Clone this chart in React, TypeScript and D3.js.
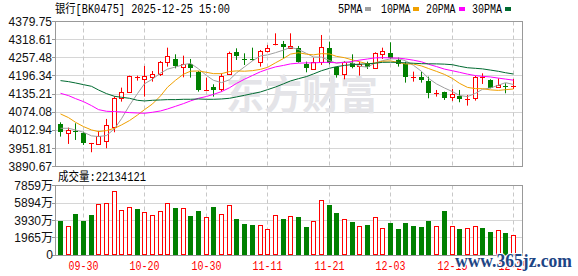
import React from 'react';
import * as d3 from 'd3';

const W = 578;
const H = 276;

const headerText = '银行[BK0475] 2025-12-25 15:00';
const volumeTitle = '成交量:22134121';
const maNames = ['5PMA', '10PMA', '20PMA', '30PMA'];
const maColors = ['#a0a0a0', '#f0a000', '#ff00ff', '#006a30'];

const xTickIdx = [3, 11, 19, 27, 35, 43, 51, 59];
const xTickLabels = ['09-30', '10-20', '10-30', '11-11', '11-21', '12-03', '12-15', '12-25'];
const priceTicks = [3890.67, 3951.81, 4012.94, 4074.08, 4135.21, 4196.34, 4257.48, 4318.61, 4379.75];
const volTicks = [0, 1965, 3930, 5894, 7859];
const volTickLabels = ['0', '1965万', '3930万', '5894万', '7859万'];

const opens = [4034.2, 4002.7, 4011.7, 4003.8, 3966.0, 3965.5, 3976.8, 4022.9, 4120.9, 4141.1, 4191.0, 4185.1, 4191.8, 4202.0, 4244.8, 4253.8, 4225.6, 4236.8, 4208.7, 4146.0, 4160.3, 4152.4, 4202.0, 4276.3, 4254.9, 4253.8, 4244.8, 4280.8, 4301.0, 4303.3, 4292.0, 4292.0, 4235.7, 4218.8, 4244.8, 4292.0, 4225.6, 4202.0, 4239.1, 4230.1, 4239.1, 4222.2, 4269.5, 4272.9, 4250.4, 4235.7, 4190.0, 4194.1, 4179.4, 4137.0, 4141.1, 4124.3, 4129.9, 4114.1, 4120.9, 4189.6, 4182.8, 4160.3, 4163.7, 4159.2];
const highs = [4039.8, 4021.8, 4036.4, 4008.3, 3970.0, 4010.5, 4051.1, 4127.6, 4156.9, 4197.4, 4197.4, 4230.1, 4213.2, 4247.0, 4292.0, 4269.5, 4265.0, 4253.8, 4213.2, 4190.7, 4168.2, 4205.3, 4278.5, 4289.8, 4272.9, 4292.0, 4284.2, 4301.0, 4340.5, 4314.6, 4340.5, 4297.7, 4244.8, 4258.3, 4334.8, 4312.3, 4227.9, 4247.0, 4269.5, 4244.8, 4244.8, 4276.3, 4292.0, 4310.1, 4258.3, 4244.8, 4211.0, 4211.0, 4194.1, 4149.0, 4143.4, 4152.4, 4149.0, 4132.1, 4196.3, 4205.3, 4185.1, 4188.4, 4171.5, 4186.2];
const lows = [3991.4, 3966.6, 3980.1, 3963.2, 3938.5, 3963.0, 3952.0, 4006.0, 4109.6, 4140.0, 4180.6, 4126.5, 4177.2, 4196.3, 4227.9, 4222.2, 4191.8, 4190.7, 4143.4, 4145.0, 4126.5, 4143.4, 4199.7, 4250.4, 4233.5, 4248.2, 4227.9, 4276.3, 4300.0, 4256.0, 4289.8, 4241.4, 4208.7, 4216.6, 4233.5, 4235.7, 4190.7, 4185.1, 4222.2, 4197.4, 4220.0, 4220.0, 4253.8, 4253.8, 4227.9, 4173.8, 4177.2, 4173.8, 4120.9, 4126.5, 4115.3, 4111.9, 4107.4, 4096.1, 4113.0, 4169.3, 4154.7, 4156.9, 4137.8, 4152.4];
const closes = [4006.0, 4013.9, 4009.4, 3971.1, 3969.0, 3994.8, 4030.8, 4123.1, 4141.1, 4196.3, 4193.0, 4196.3, 4202.0, 4242.5, 4262.8, 4230.1, 4235.7, 4224.5, 4149.0, 4150.0, 4149.0, 4196.3, 4272.9, 4265.0, 4252.6, 4249.3, 4280.8, 4289.8, 4303.0, 4295.4, 4296.5, 4244.8, 4222.2, 4242.5, 4293.2, 4239.1, 4199.7, 4244.8, 4225.6, 4235.7, 4225.6, 4272.9, 4280.8, 4256.0, 4235.7, 4194.1, 4192.0, 4181.7, 4137.8, 4139.5, 4123.1, 4134.4, 4117.5, 4118.5, 4194.1, 4191.8, 4156.9, 4164.8, 4161.0, 4162.5];
const volumes = [3856, 3289, 4687, 3856, 4536, 5783, 5897, 7258, 5103, 5443, 5216, 4876, 4536, 4990, 5897, 5330, 5330, 4460, 4990, 4300, 5443, 4649, 5670, 4082, 3515, 3402, 3402, 2948, 4536, 4082, 4423, 4309, 3175, 3856, 6237, 5708, 4801, 4082, 3742, 3289, 3402, 4309, 3062, 3667, 2948, 3667, 3289, 3175, 3856, 3289, 4990, 3289, 2948, 3062, 3289, 3062, 2608, 2835, 2495, 2213];

const ma5 = [4019.5, 4019.5, 4013.9, 4006.0, 3993.9, 3991.6, 3995.0, 4017.8, 4051.8, 4097.2, 4136.9, 4170.0, 4185.7, 4206.0, 4219.3, 4226.7, 4234.6, 4239.1, 4220.4, 4197.9, 4181.6, 4173.8, 4183.4, 4206.6, 4227.2, 4247.2, 4264.1, 4267.5, 4275.1, 4283.7, 4293.1, 4285.9, 4272.4, 4260.3, 4259.8, 4248.4, 4239.3, 4243.9, 4240.5, 4229.0, 4226.3, 4240.9, 4248.1, 4254.2, 4254.2, 4247.9, 4232.2, 4212.0, 4188.3, 4169.5, 4155.7, 4143.3, 4130.5, 4126.6, 4137.5, 4151.3, 4155.8, 4165.2, 4173.7, 4167.5];
const ma10 = [4068.0, 4055.6, 4039.8, 4025.2, 4013.9, 4008.3, 4011.7, 4019.5, 4030.8, 4045.6, 4064.3, 4082.5, 4101.8, 4128.9, 4158.3, 4181.8, 4202.3, 4212.4, 4213.2, 4208.6, 4204.2, 4204.2, 4211.3, 4213.4, 4212.4, 4214.3, 4218.8, 4225.4, 4240.8, 4255.4, 4270.2, 4275.0, 4269.9, 4267.7, 4271.8, 4270.7, 4262.6, 4258.1, 4250.4, 4244.4, 4237.3, 4240.1, 4246.0, 4247.3, 4241.6, 4237.1, 4236.6, 4230.2, 4221.5, 4211.8, 4201.6, 4187.7, 4171.4, 4157.7, 4153.5, 4153.3, 4149.3, 4147.6, 4150.0, 4152.3];
const ma20 = [4137.8, 4129.9, 4119.8, 4109.6, 4096.1, 4082.6, 4077.0, 4075.8, 4074.7, 4072.5, 4071.3, 4070.2, 4073.6, 4078.1, 4084.8, 4093.8, 4102.9, 4112.0, 4120.9, 4127.0, 4134.2, 4143.3, 4156.5, 4171.2, 4185.3, 4198.1, 4210.6, 4218.9, 4227.0, 4232.0, 4237.1, 4239.6, 4240.6, 4240.6, 4242.1, 4242.5, 4240.7, 4241.7, 4245.6, 4249.9, 4253.7, 4257.6, 4258.0, 4257.5, 4256.7, 4253.9, 4249.6, 4244.2, 4235.9, 4228.1, 4219.5, 4213.9, 4208.7, 4202.5, 4197.5, 4195.1, 4193.0, 4189.0, 4185.8, 4182.1];
const ma30 = [4180.6, 4177.2, 4172.7, 4167.0, 4161.4, 4149.0, 4136.6, 4127.6, 4124.3, 4120.9, 4114.1, 4111.9, 4114.1, 4115.3, 4116.4, 4116.4, 4117.5, 4117.5, 4118.6, 4117.5, 4117.5, 4118.6, 4120.9, 4125.4, 4131.0, 4136.6, 4142.3, 4150.0, 4159.0, 4169.8, 4179.5, 4187.2, 4194.3, 4203.3, 4214.1, 4222.3, 4227.9, 4232.0, 4234.8, 4236.1, 4237.2, 4239.7, 4242.4, 4242.8, 4241.9, 4240.7, 4239.3, 4237.9, 4237.5, 4237.2, 4236.3, 4234.3, 4229.1, 4224.2, 4222.2, 4220.3, 4216.2, 4212.0, 4207.3, 4202.9];

const RED = '#ff0000';
const GREEN = '#008000';
const FRAME = '#999999';
const GRID = '#d6d6d6';
const DASH = '#c8c8c8';
const monoFont = "'Liberation Mono','Noto Sans CJK SC',monospace";
const axisFont = "'Liberation Sans','Noto Sans CJK SC',sans-serif";

export default function App() {
  const n = closes.length;
  const idx = d3.range(n);
  const x = d3.scaleBand<number>().domain(idx).range([56.5, 517.3]);
  const cx = (i: number) => Math.floor((x(i) ?? 0) + x.bandwidth() / 2) + 0.5;
  const yP = d3.scaleLinear().domain([priceTicks[0], priceTicks[priceTicks.length - 1]]).range([166.4, 21.7]);
  const yV = d3.scaleLinear().domain([0, volTicks[volTicks.length - 1]]).range([255, 185.7]);
  const snap = (v: number) => Math.floor(v) + 0.5;
  const PL = 55.5;
  const PR = 522.5;
  const pTop = snap(yP(priceTicks[priceTicks.length - 1]));
  const pBot = snap(yP(priceTicks[0]));
  const vTop = snap(yV(volTicks[volTicks.length - 1]));
  const vBot = snap(yV(0));

  const maSeries = [ma5, ma10, ma20, ma30];
  const line = d3.line<number>().x((_, i) => cx(i)).y((v) => yP(v));

  const candles = idx.map((i) => {
    const o = opens[i], c = closes[i], h = highs[i], l = lows[i];
    const up = c >= o;
    const X = cx(i);
    const yh = yP(h), yl = yP(l);
    const top = Math.round(Math.min(yP(o), yP(c)));
    const bot = Math.round(Math.max(yP(o), yP(c)));
    if (up) {
      if (bot - top < 2) {
        return (
          <g key={i}>
            <line x1={X} x2={X} y1={yh} y2={yl} stroke={RED} />
            <line x1={X - 2.5} x2={X + 2.5} y1={top + 0.5} y2={top + 0.5} stroke={RED} />
          </g>
        );
      }
      return (
        <g key={i}>
          <line x1={X} x2={X} y1={yh} y2={top + 0.5} stroke={RED} />
          <line x1={X} x2={X} y1={bot + 0.5} y2={yl} stroke={RED} />
          <rect x={X - 2} y={top + 0.5} width={4} height={bot - top} fill="#fff" stroke={RED} />
        </g>
      );
    }
    return (
      <g key={i}>
        <line x1={X} x2={X} y1={yh} y2={yl} stroke={GREEN} />
        <rect x={X - 2.5} y={top} width={5} height={Math.max(1, bot - top)} fill={GREEN} />
      </g>
    );
  });

  const volBars = idx.map((i) => {
    const down = i === 0 ? closes[i] < opens[i] : closes[i] < closes[i - 1];
    const X = cx(i);
    const vy = Math.round(yV(volumes[i]));
    const base = Math.round(yV(0));
    if (down) {
      return <rect key={i} x={X - 2.5} y={vy} width={5} height={base - vy} fill={GREEN} />;
    }
    return (
      <rect key={i} x={X - 2} y={vy + 0.5} width={4} height={base - vy - 1} fill="#fff" stroke={RED} />
    );
  });

  const legendPos = [
    { tx: 338, tl: 24.5, sx: 365 },
    { tx: 381, tl: 29.5, sx: 413 },
    { tx: 426, tl: 29.5, sx: 459 },
    { tx: 472, tl: 30, sx: 505 },
  ];

  return (
    <svg
      width={W}
      height={H}
      viewBox={`0 0 ${W} ${H}`}
      style={{ position: 'absolute', left: 0, top: 0, background: '#fff' }}
    >
      <rect x={0} y={0} width={W} height={H} fill="#fff" />

      {/* header */}
      <text x={55} y={13} fontFamily={monoFont} fontSize={12} fill="#000" textLength={175} lengthAdjust="spacingAndGlyphs">
        {headerText}
      </text>
      {maNames.map((name, k) => (
        <g key={name}>
          <text x={legendPos[k].tx} y={13} fontFamily={monoFont} fontSize={12} fill="#000" textLength={legendPos[k].tl} lengthAdjust="spacingAndGlyphs">
            {name}
          </text>
          <rect x={legendPos[k].sx} y={7} width={6} height={4} fill={maColors[k]} />
        </g>
      ))}

      {/* price grid */}
      {priceTicks.slice(1, -1).map((t) => (
        <line key={t} x1={PL} x2={PR} y1={snap(yP(t))} y2={snap(yP(t))} stroke={GRID} />
      ))}
      {xTickIdx.map((i) => (
        <line key={'pd' + i} x1={cx(i)} x2={cx(i)} y1={pTop} y2={pBot} stroke={DASH} strokeDasharray="4,3" />
      ))}

      {/* watermark */}
      <text x={226} y={109} fontFamily="'Noto Sans CJK SC'" fontWeight={700} fontSize={40} fill="#e4e4e8" textLength={152} lengthAdjust="spacingAndGlyphs">
        东方财富
      </text>

      {candles}

      {maSeries.map((s, k) => (
        <path key={k} d={line(s) ?? ''} fill="none" stroke={maColors[k]} strokeWidth={1} />
      ))}

      {/* price frame */}
      <rect x={PL} y={pTop} width={PR - PL} height={pBot - pTop} fill="none" stroke={FRAME} />
      {priceTicks.map((t) => (
        <g key={'pl' + t}>
          <line x1={52} x2={PL} y1={snap(yP(t))} y2={snap(yP(t))} stroke={FRAME} />
          <text x={52} y={yP(t)} dy="0.35em" textAnchor="end" fontFamily={axisFont} fontSize={12} fill="#111">
            {t.toFixed(2)}
          </text>
        </g>
      ))}

      {/* volume panel */}
      <text x={58} y={181} fontFamily={monoFont} fontSize={12} fill="#000" textLength={88} lengthAdjust="spacingAndGlyphs">
        {volumeTitle}
      </text>
      {volTicks.slice(1, -1).map((t) => (
        <line key={'vg' + t} x1={PL} x2={PR} y1={snap(yV(t))} y2={snap(yV(t))} stroke={GRID} />
      ))}
      {xTickIdx.map((i) => (
        <line key={'vd' + i} x1={cx(i)} x2={cx(i)} y1={vTop} y2={vBot} stroke={DASH} strokeDasharray="4,3" />
      ))}
      {volBars}
      <rect x={PL} y={vTop} width={PR - PL} height={vBot - vTop} fill="none" stroke={FRAME} />
      {volTicks.map((t, k) => (
        <g key={'vl' + t}>
          <line x1={52} x2={PL} y1={snap(yV(t))} y2={snap(yV(t))} stroke={FRAME} />
          <text x={53} y={yV(t)} dy="0.35em" textAnchor="end" fontFamily={axisFont} fontSize={12} fill="#111">
            {volTickLabels[k]}
          </text>
        </g>
      ))}
      {xTickIdx.map((i, k) => (
        <text key={'xl' + i} x={cx(i)} y={270} textAnchor="middle" fontFamily={monoFont} fontSize={12} fill={RED} textLength={30} lengthAdjust="spacingAndGlyphs">
          {xTickLabels[k]}
        </text>
      ))}

      {/* site watermark */}
      <text
        x={455}
        y={267}
        fontFamily="'Liberation Serif',serif"
        fontWeight={700}
        fontSize={19}
        fill="#1d4585"
        stroke="#ffffff"
        strokeWidth={2}
        paintOrder="stroke"
        textLength={117}
        lengthAdjust="spacingAndGlyphs"
      >
        www.365jz.com
      </text>
    </svg>
  );
}
